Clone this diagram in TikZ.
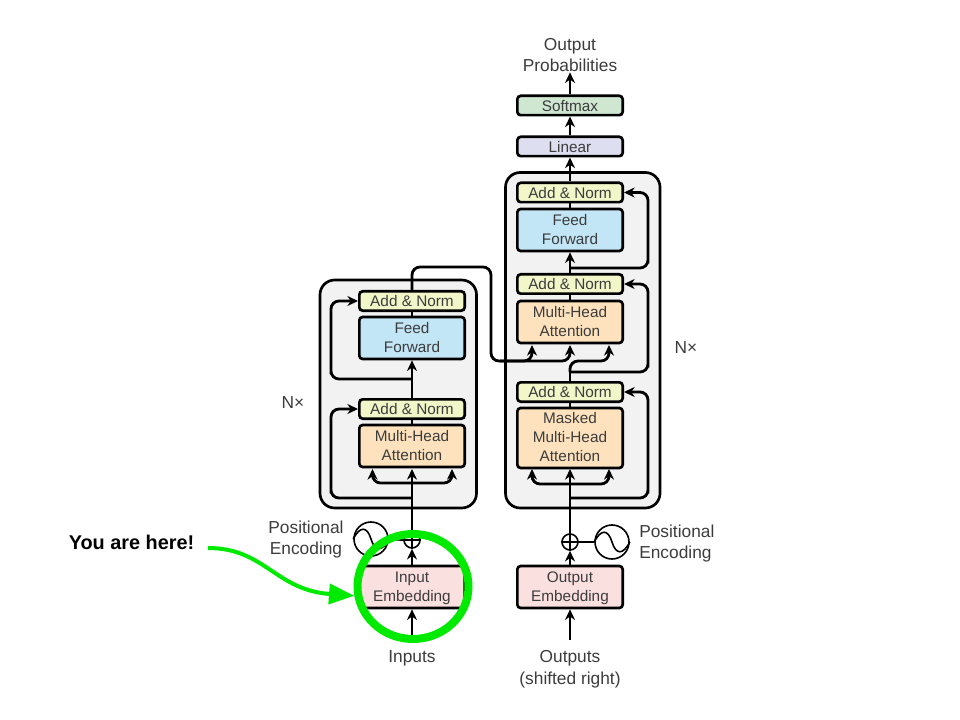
\documentclass[tikz,border=0pt]{standalone}
\usepackage{fontspec}
\setmainfont{Liberation Sans}
\usetikzlibrary{arrows.meta,positioning,shapes.geometric}
\definecolor{ink}{HTML}{3C3C3C}
\definecolor{cAdd}{HTML}{F2F7C9}
\definecolor{cFF}{HTML}{C3E6F6}
\definecolor{cMHA}{HTML}{FDE2BD}
\definecolor{cEmb}{HTML}{FBE0E0}
\definecolor{cSoft}{HTML}{CFE6D0}
\definecolor{cLin}{HTML}{DDDFF0}
\definecolor{cStack}{HTML}{F2F2F2}
\definecolor{cGreen}{HTML}{00EA00}
\tikzset{
  x=0.75pt,y=-0.75pt,
  every node/.style={font=\fontsize{11.5}{14.2}\selectfont,text=ink,align=center,inner sep=0pt},
  blk/.style={draw=black,line width=2pt,rounded corners=2.5pt,minimum width=79pt,text depth=0pt},
  small/.style={blk,minimum height=14.5pt},
  mid/.style={blk,minimum height=31.5pt,text depth=1pt},
  tall/.style={blk,minimum height=45pt,text depth=1pt},
  stack/.style={draw=black,line width=2pt,fill=cStack,rounded corners=11pt},
  wire/.style={draw=black,line width=2.1pt,rounded corners=6pt},
  arr/.style={wire,-{Stealth[length=8pt,width=7.5pt]}},
  ringnode/.style={circle,draw=black,line width=1.2pt,fill=white},
  lab/.style={font=\fontsize{13}{16.4}\selectfont},
}
\begin{document}
\begin{tikzpicture}
\useasboundingbox (0,0) rectangle (960,720);
% stacks
\draw[stack] (320,280) rectangle (476.5,508);
\draw[stack] (505.5,172.5) rectangle (660,508);

% encoder blocks
\node[small,fill=cAdd] (ea1) at (412,301) {Add \& Norm};
\node[mid,fill=cFF] (eff) at (412,338) {Feed\\Forward};
\node[small,fill=cAdd] (ea2) at (412,409) {Add \& Norm};
\node[mid,fill=cMHA] (emh) at (412,446) {Multi-Head\\Attention};
\node[mid,fill=cEmb] (eemb) at (412,587) {Input\\Embedding};
% decoder blocks
\node[small,fill=cSoft] (soft) at (570,105.5) {Softmax};
\node[small,fill=cLin] (lin) at (570,146.5) {Linear};
\node[small,fill=cAdd] (da1) at (570,192.5) {Add \& Norm};
\node[mid,fill=cFF] (dff) at (570,230) {Feed\\Forward};
\node[small,fill=cAdd] (da2) at (570,284) {Add \& Norm};
\node[mid,fill=cMHA] (dmh) at (570,322) {Multi-Head\\Attention};
\node[small,fill=cAdd] (da3) at (570,392) {Add \& Norm};
\node[tall,fill=cMHA] (dmm) at (570,438) {Masked\\Multi-Head\\Attention};
\node[mid,fill=cEmb] (demb) at (570,587) {Output\\Embedding};

% positional encoding symbols
\node[ringnode,minimum size=12pt] (ep) at (412,540) {};
\node[ringnode,minimum size=25.5pt] (ew) at (371,539) {};
\node[ringnode,minimum size=12pt] (dp) at (570,542) {};
\node[ringnode,minimum size=25.5pt] (dw) at (612,542) {};
\draw[line width=1.2pt] (ep.north)--(ep.south) (ep.west)--(ep.east);
\draw[line width=1.2pt] (dp.north)--(dp.south) (dp.west)--(dp.east);
\draw[line width=1.2pt] (ew.west) .. controls (360,526) and (367,526) .. (ew.center) .. controls (375,552) and (382,552) .. (ew.east);
\draw[line width=1.2pt] (dw.west) .. controls (601,529) and (608,529) .. (dw.center) .. controls (616,555) and (623,555) .. (dw.east);
\draw[line width=1.5pt] (ew.east)--(ep.west);
\draw[line width=1.5pt] (dw.west)--(dp.east);

% labels
\node[lab] (oprob) at (570,55) {Output\\Probabilities};
\node[lab] (ein) at (412,658.5) {Inputs};
\node[lab] (dout) at (570,669.5) {Outputs\\(shifted right)};
\node[lab] (epos) at (306,539.5) {Positional\\Encoding};
\node[lab,align=left,anchor=west] (dpos) at (639,543.5) {Positional\\Encoding};
\node[lab] (nl) at (293,403) {N×};
\node[lab] (nr) at (686,348) {N×};
\node[font=\fontsize{14.9}{17}\selectfont\bfseries,text=black] (here) at (131.5,542) {You are here!};

% named junctions
\coordinate (ej1) at (412,379);
\coordinate (ej2) at (412,498);
\coordinate (ej3) at (412,483);
\coordinate (es1) at (331,379);
\coordinate (es2) at (331,498);
\coordinate (eta) at (372.5,469);
\coordinate (etb) at (452,469);
\coordinate (estart) at (412,640);
\coordinate (dstart) at (570,640);
\coordinate (dj0) at (570,268);
\coordinate (ds0) at (648,268);
\coordinate (dj1) at (570,372);
\coordinate (ds1) at (648,372);
\coordinate (dj2) at (570,498);
\coordinate (ds2) at (648,498);
\coordinate (dj3) at (570,484);
\coordinate (dta) at (532,469);
\coordinate (dtb) at (609,469);
\coordinate (xa) at (412,267);
\coordinate (xb) at (491,267);
\coordinate (xc) at (491,361);
\coordinate (xd) at (500,361);
\coordinate (ya) at (532,345);
\coordinate (yb) at (570,345);
\coordinate (yc) at (609,345);
\coordinate (yd) at (570,361);
\coordinate (ye) at (609,361);

% encoder connectors
\draw[arr] (estart)--(eemb.south);
\draw[arr] (eemb.north)--(ep.south);
\draw[arr] (ep.north)--(emh.south|-eta);
\draw[arr] (ej3) -| (eta);
\draw[arr] (ej3) -| (etb);
\draw[arr] (ej2) -| (es2) |- (ea2.west);
\draw[wire] (emh.north)--(ea2.south);
\draw[arr] (ea2.north)--(eff.south);
\draw[arr] (ej1) -| (es1) |- (ea1.west);
\draw[wire] (eff.north)--(ea1.south);
% encoder to decoder
\draw[arr] (ea1.north)--(xa)--(xb)--(xc)--(yd)--(yb);
\draw[arr] (xd) -| (ya);

% decoder connectors
\draw[arr] (dstart)--(demb.south);
\draw[arr] (demb.north)--(dp.south);
\draw[arr] (dp.north)--(dmm.south|-dta);
\draw[arr] (dj3) -| (dta);
\draw[arr] (dj3) -| (dtb);
\draw[arr] (dj2) -| (ds2) |- (da3.east);
\draw[wire] (dmm.north)--(da3.south);
\draw[wire] (da3.north)--(dj1);
\draw[arr] (dj1)--(yd)--(ye)--(yc);
\draw[arr] (dj1) -| (ds1) |- (da2.east);
\draw[wire] (dmh.north)--(da2.south);
\draw[arr] (da2.north)--(dff.south);
\draw[arr] (dj0) -| (ds0) |- (da1.east);
\draw[wire] (dff.north)--(da1.south);
\draw[arr] (da1.north)--(lin.south);
\draw[arr] (lin.north)--(soft.south);
\draw[arr] (soft.north)--(oprob.south);

% highlight
\node[ellipse,draw=cGreen,line width=6pt,minimum width=83.25pt,minimum height=78.75pt] (ring) at (413,586.5) {};
\coordinate (gs) at (208,548);
\draw[draw=cGreen,line width=3pt,-{Triangle[length=19pt,width=15pt,fill=cGreen]}]
  (gs) .. controls (265,548) and (275,590) .. (ring.189);
\end{tikzpicture}
\end{document}
